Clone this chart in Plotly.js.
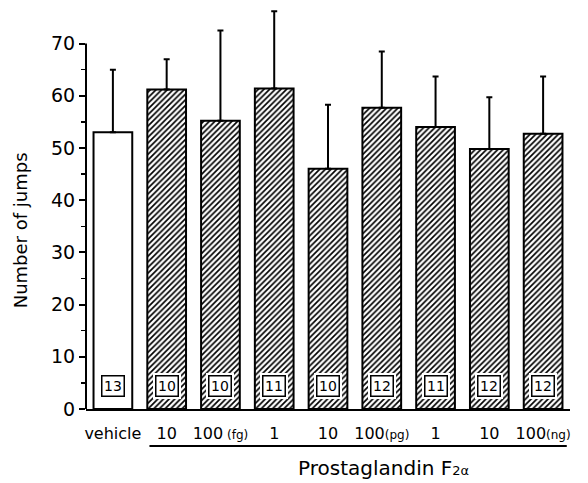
<!DOCTYPE html>
<html>
<head>
<meta charset="utf-8">
<script src="https://cdn.plot.ly/plotly-3.0.1.min.js"></script>
<style>html,body{margin:0;padding:0;background:#fff;}#chart{width:588px;height:483px;}</style>
</head>
<body>
<div id="chart"></div>
<script>
var groups = ["vehicle", "10", "100 (fg)", "1", "10", "100 (pg)", "1", "10", "100 (ng)"];
var tickLabels = ["vehicle", "10", "100<span style='font-size:12px'> (fg)</span>", "1", "10",
  "100<span style='font-size:12px'>(pg)</span>", "1", "10", "100<span style='font-size:12px'>(ng)</span>"];
var means = [53.0, 61.2, 55.2, 61.4, 46.0, 57.7, 54.0, 49.8, 52.7];
var errUp = [12.0, 5.8, 17.3, 14.8, 12.3, 10.8, 9.7, 9.9, 11.0];
var nCounts = [13, 10, 10, 11, 10, 12, 11, 12, 12];
var yTicks = [0, 10, 20, 30, 40, 50, 60, 70];
var yMinor = [5, 15, 25, 35, 45, 55, 65];
var nLabelY = 4.4;

var FONT = "DejaVu Sans, Liberation Sans, Arial";
var idx = groups.map(function(_, i){ return i; });
var fills = idx.map(function(i){ return i === 0 ? "" : "/"; });

var trace = {
  type: "bar",
  x: idx,
  y: means,
  width: 0.72,
  marker: {
    color: "white",
    line: {color: "black", width: 2},
    pattern: {shape: fills, fgcolor: "black", bgcolor: "white", size: 4, solidity: 0.42}
  },
  error_y: {type: "data", symmetric: false, array: errUp, arrayminus: idx.map(function(){return 0;}),
            color: "black", thickness: 2, width: 3},
  hoverinfo: "none"
};

var annotations = [];
idx.forEach(function(i){
  annotations.push({x: i, y: nLabelY, xref: "x", yref: "y", text: String(nCounts[i]), showarrow: false,
    font: {family: FONT, size: 14, color: "white"},
    bgcolor: "white", bordercolor: "white", borderwidth: 1, borderpad: 4});
  annotations.push({x: i, y: nLabelY, xref: "x", yref: "y", text: String(nCounts[i]), showarrow: false,
    font: {family: FONT, size: 14, color: "black"},
    bgcolor: "white", bordercolor: "black", borderwidth: 1.5, borderpad: 1.5});
});
annotations.push({
  x: 5.03, xref: "x", y: -0.147, yref: "paper", yanchor: "middle", xanchor: "center",
  text: "Prostaglandin F<span style='font-size:13px'>2α</span>", showarrow: false,
  font: {family: FONT, size: 20, color: "black"}
});
annotations.push({
  x: -0.136, xref: "paper", xanchor: "center", y: 0.445, yref: "paper", yanchor: "middle",
  textangle: -90, text: "Number of jumps", showarrow: false,
  font: {family: FONT, size: 18, color: "black"}
});

var layout = {
  width: 588, height: 483,
  margin: {l: 86, r: 18, t: 7, b: 74},
  paper_bgcolor: "white", plot_bgcolor: "white",
  showlegend: false,
  xaxis: {
    range: [-0.5, 8.5], tickmode: "array", tickvals: idx, ticktext: tickLabels,
    showline: true, linecolor: "black", linewidth: 2, ticks: "", showgrid: false, zeroline: false,
    ticklabelstandoff: 9,
    tickfont: {family: FONT, size: 16, color: "black"}
  },
  yaxis: {
    range: [0, 77], tickmode: "array", tickvals: yTicks,
    showline: false, ticks: "outside", ticklen: 6, tickwidth: 2, tickcolor: "black",
    minor: {tickmode: "array", tickvals: yMinor, ticks: "outside", ticklen: 4, tickwidth: 1.5, tickcolor: "black", showgrid: false},
    showgrid: false, zeroline: false,
    tickfont: {family: FONT, size: 19, color: "black"}
  },
  shapes: [
    {type: "line", xref: "paper", yref: "y", x0: 0, x1: 0, y0: 0, y1: 70, line: {color: "black", width: 2}},
    {type: "line", xref: "x", yref: "paper", x0: 0.68, x1: 8.44, y0: -0.092, y1: -0.092, line: {color: "black", width: 2}}
  ],
  annotations: annotations
};

Plotly.newPlot("chart", [trace], layout, {staticPlot: true});
</script>
</body>
</html>
